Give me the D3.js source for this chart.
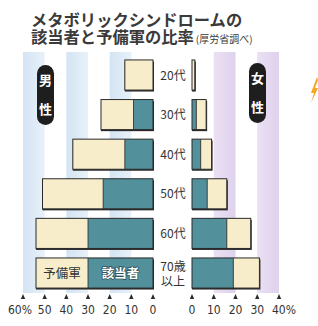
<!DOCTYPE html>
<html>
<head>
<meta charset="utf-8">
<script src="https://cdn.jsdelivr.net/npm/d3@7"></script>
<style>
  body { margin: 0; background: #fff; }
  svg { display: block; font-family: "Noto Sans CJK JP", "Noto Sans", sans-serif; }
</style>
</head>
<body>
<div class="canvas"></div>
<script>
// data (percent)
var ages = ['20代', '30代', '40代', '50代', '60代', '70歳以上'];
var maleGaitou = [0, 9, 13, 23, 30, 30];     // 該当者
var maleYobi   = [13, 15, 24, 28, 24, 24];   // 予備軍
var femaleGaitou = [0, 2, 4, 7, 16, 19];
var femaleYobi   = [1.3, 4.5, 5, 9, 11, 12];
var maleTicks = [0, 10, 20, 30, 40, 50, 60];
var femaleTicks = [0, 10, 20, 30, 40];

var W = 318, H = 326;
var cYellow = '#f7edca', cTeal = '#52909c', cDark = '#2a2a2a';

var svg = d3.select('.canvas').append('svg')
  .attr('width', W).attr('height', H);

var xL = d3.scaleLinear().domain([0, 60]).range([153, 23]);
var xR = d3.scaleLinear().domain([0, 40]).range([192, 279]);
var y = d3.scaleBand().domain(ages).range([55.2, 292.8])
  .paddingInner(0.24).paddingOuter(0.12);

// background stripes
var stripeTop = 52, stripeBot = 293;
var defs = svg.append('defs');
var gb = defs.append('linearGradient').attr('id', 'gblue');
gb.append('stop').attr('offset', '0%').attr('stop-color', '#d3e4f3');
gb.append('stop').attr('offset', '100%').attr('stop-color', '#e8f1f9');
var gp = defs.append('linearGradient').attr('id', 'gpurp');
gp.append('stop').attr('offset', '0%').attr('stop-color', '#ebe0f3');
gp.append('stop').attr('offset', '100%').attr('stop-color', '#ded2ed');

svg.append('g').selectAll('rect')
  .data(maleTicks.filter(function(t){ return t % 20 == 10; }))
  .enter().append('rect')
    .attr('x', function(d){ return xL(d + 10); })
    .attr('width', function(d){ return xL(d) - xL(d + 10); })
    .attr('y', stripeTop).attr('height', stripeBot - stripeTop)
    .attr('fill', 'url(#gblue)');

svg.append('g').selectAll('rect')
  .data(femaleTicks.filter(function(t){ return t % 20 == 10; }))
  .enter().append('rect')
    .attr('x', function(d){ return xR(d); })
    .attr('width', function(d){ return xR(d + 10) - xR(d); })
    .attr('y', stripeTop).attr('height', stripeBot - stripeTop)
    .attr('fill', 'url(#gpurp)');

// title
var title = svg.append('g').attr('fill', '#3a3a3a').attr('font-weight', 'bold');
title.append('text').attr('x', 31).attr('y', 26)
  .attr('font-size', 16.3).text('メタボリックシンドロームの');
var t2 = title.append('text').attr('x', 31).attr('y', 42.5).attr('font-size', 16.3);
t2.append('tspan').text('該当者と予備軍の比率');
t2.append('tspan').attr('font-size', 10).attr('font-weight', 'normal').attr('dx', 2).text('(厚労省調べ)');

// bars
function drawBars(g, x, gaitou, yobi) {
  var rows = g.selectAll('g.row').data(ages).enter().append('g').attr('class', 'row');
  rows.each(function(age, i) {
    var row = d3.select(this);
    var top = y(age), h = y.bandwidth();
    var a = gaitou[i], b = yobi[i];
    var x0 = x(0), x1 = x(a), x2 = x(a + b);
    var lo = Math.min(x0, x2), hi = Math.max(x0, x2);
    // shadow
    row.append('rect').attr('x', lo).attr('y', top + 1.5)
      .attr('width', hi - lo + 1).attr('height', h).attr('fill', cDark);
    row.append('rect').attr('x', Math.min(x0, x1)).attr('y', top)
      .attr('width', Math.abs(x1 - x0)).attr('height', h).attr('fill', cTeal);
    row.append('rect').attr('x', Math.min(x1, x2)).attr('y', top)
      .attr('width', Math.abs(x2 - x1)).attr('height', h).attr('fill', cYellow);
    if (a > 0 && b > 0)
      row.append('line').attr('x1', x1).attr('x2', x1).attr('y1', top).attr('y2', top + h)
        .attr('stroke', cDark).attr('stroke-width', 0.8);
    row.append('rect').attr('x', lo).attr('y', top)
      .attr('width', hi - lo).attr('height', h)
      .attr('fill', 'none').attr('stroke', cDark).attr('stroke-width', 1);
  });
}
drawBars(svg.append('g'), xL, maleGaitou, maleYobi);
drawBars(svg.append('g'), xR, femaleGaitou, femaleYobi);

// age labels
var lab = svg.append('g').attr('fill', '#333').attr('font-size', 12).attr('text-anchor', 'middle');
ages.forEach(function(age) {
  var cy = y(age) + y.bandwidth() / 2;
  if (age.length > 3) {
    lab.append('text').attr('x', 173).attr('y', cy - 2.5).text(age.slice(0, 3));
    lab.append('text').attr('x', 173).attr('y', cy + 12.5).text(age.slice(3));
  } else {
    lab.append('text').attr('x', 173).attr('y', cy + 4.5).text(age);
  }
});

// legend inside the 70代 male bar
var li = ages.length - 1;
var ly = y(ages[li]) + y.bandwidth() / 2 + 4.5;
svg.append('text').attr('x', (xL(maleGaitou[li]) + xL(maleGaitou[li] + maleYobi[li])) / 2).attr('y', ly)
  .attr('text-anchor', 'middle').attr('font-size', 12.5).attr('fill', '#333').text('予備軍');
svg.append('text').attr('x', (xL(0) + xL(maleGaitou[li])) / 2).attr('y', ly)
  .attr('text-anchor', 'middle').attr('font-size', 12.5).attr('font-weight', 'bold')
  .attr('fill', '#fff').attr('stroke', '#2f5560').attr('stroke-width', 1.6)
  .attr('paint-order', 'stroke').text('該当者');

// sex badges
function badge(x, top, chars) {
  var g = svg.append('g');
  g.append('rect').attr('x', x).attr('y', top).attr('width', 17).attr('height', 60)
    .attr('rx', 8.5).attr('fill', '#1e1e1e');
  g.selectAll('text').data(chars).enter().append('text')
    .attr('x', x + 8.5).attr('y', function(d, i){ return top + 20 + i * 29; })
    .attr('text-anchor', 'middle').attr('font-size', 13).attr('font-weight', 'bold')
    .attr('fill', '#fff').text(function(d){ return d; });
}
badge(37, 65, ['男', '性']);
badge(249, 63, ['女', '性']);

// ticks
function ticks(x, vals, unitAt, shift) {
  var g = svg.append('g');
  g.selectAll('path').data(vals).enter().append('path')
    .attr('d', function(d){ var cx = x(d); return 'M' + (cx - 2.2) + ',299L' + cx + ',294L' + (cx + 2.2) + ',299Z'; })
    .attr('fill', cDark);
  g.selectAll('text').data(vals).enter().append('text')
    .attr('x', function(d){ return x(d) + (d == unitAt ? shift : 0); })
    .attr('y', 314).attr('text-anchor', 'middle')
    .attr('font-size', 12).attr('fill', '#333')
    .attr('font-family', '"Liberation Sans Narrow", "DejaVu Sans Condensed", sans-serif')
    .text(function(d){ return d == unitAt ? d + '%' : d; });
}
ticks(xL, maleTicks, 60, -3);
ticks(xR, femaleTicks, 40, 5);

// orange mark at the right edge (part of neighbouring art)
svg.append('path').attr('d', 'M317,77 L311,93 L314,93 L311,103 L318,88 L315,88 L318,80Z')
  .attr('fill', '#f5a623');
</script>
</body>
</html>
